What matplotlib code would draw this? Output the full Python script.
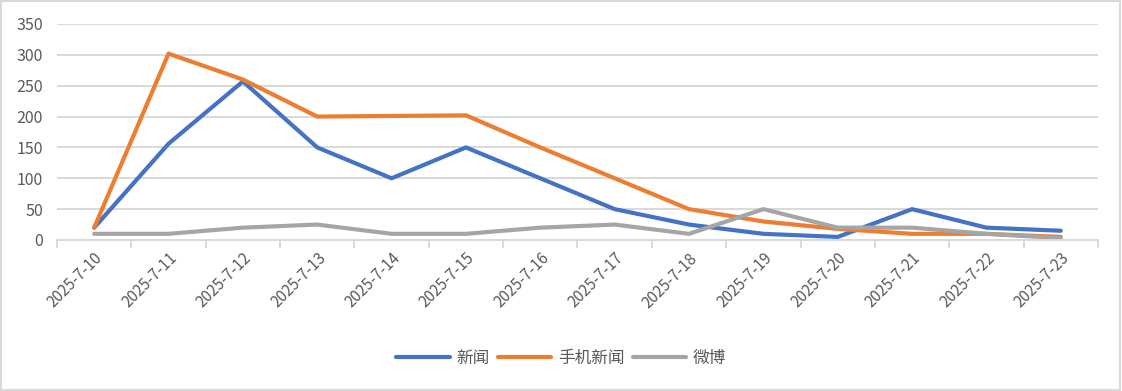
import numpy as np
import matplotlib.pyplot as plt
from matplotlib.patches import Rectangle

plt.rcParams['font.family'] = ['Noto Sans CJK SC', 'DejaVu Sans']

# data
dates = ['2025-7-10', '2025-7-11', '2025-7-12', '2025-7-13', '2025-7-14',
         '2025-7-15', '2025-7-16', '2025-7-17', '2025-7-18', '2025-7-19',
         '2025-7-20', '2025-7-21', '2025-7-22', '2025-7-23']
news = [20, 156, 257, 150, 100, 150, 100, 50, 25, 10, 5, 50, 20, 15]
mobile_news = [20, 302, 260, 200, 201, 202, 150, 100, 50, 30, 18, 10, 10, 5]
weibo = [10, 10, 20, 25, 10, 10, 20, 25, 10, 50, 20, 20, 10, 3]

series_names = ['新闻', '手机新闻', '微博']
colors = ['#4472C4', '#ED7D31', '#A5A5A5']
text_color = '#595959'
grid_color = '#D9D9D9'

fig = plt.figure(figsize=(11.22, 3.91), dpi=100)
ax = fig.add_axes([57 / 1122, 1 - 240 / 391, (1098 - 57) / 1122, 216 / 391])

x = np.arange(len(dates))
for vals, name, c in zip([news, mobile_news, weibo], series_names, colors):
    ax.plot(x, vals, color=c, lw=3.0, label=name, solid_capstyle='round',
            solid_joinstyle='round')

ax.set_ylim(0, 350)
ax.set_yticks(range(0, 351, 50))
ax.set_xlim(-0.5, len(dates) - 0.5)
ax.grid(axis='y', color=grid_color, lw=1.4)
ax.set_axisbelow(True)

for s in ['top', 'right', 'left']:
    ax.spines[s].set_visible(False)
ax.spines['bottom'].set_color(grid_color)
ax.spines['bottom'].set_linewidth(1.4)

ax.set_xticks(x)
ax.set_xticklabels(dates, rotation=45, ha='right', va='top',
                   rotation_mode='anchor', fontsize=11, color=text_color)
ax.set_xticks(np.arange(-0.5, len(dates), 1), minor=True)
ax.tick_params(axis='x', which='major', length=0, pad=7)
ax.tick_params(axis='x', which='minor', length=6, color=grid_color, width=1.4)
ax.tick_params(axis='y', length=0, labelsize=11.5, labelcolor=text_color, pad=10)

leg = fig.legend(loc='center', bbox_to_anchor=(0.5, 1 - 358 / 391), ncol=3,
                 frameon=False, fontsize=12, handlelength=3.2,
                 handletextpad=0.4, columnspacing=0.5)
for t in leg.get_texts():
    t.set_color(text_color)

fig.patches.append(Rectangle((0.001, 0.002), 0.997, 0.995, transform=fig.transFigure,
                             fill=False, edgecolor=grid_color, lw=1.5))

fig.savefig('out.png', dpi=100)
